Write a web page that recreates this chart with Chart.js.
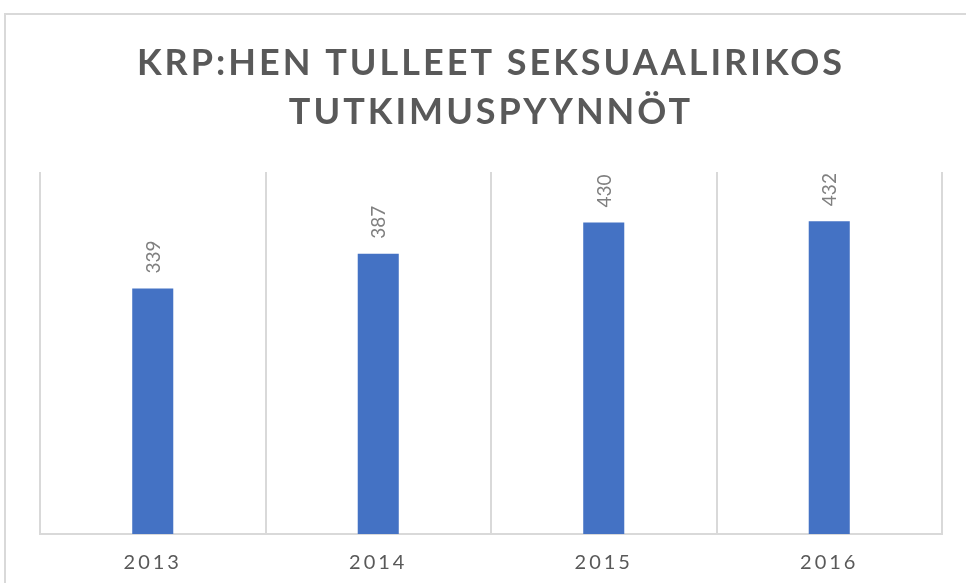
<!DOCTYPE html>
<html>
<head>
<meta charset="utf-8">
<script src="https://cdn.jsdelivr.net/npm/chart.js@4"></script>
<style>
  body { margin: 0; background: #fff; }
  #wrap { position: relative; width: 966px; height: 583px; overflow: hidden; }
  #frame { position: absolute; left: 4px; top: 13px; width: 1200px; height: 800px;
           border-top: 2px solid #d9d9d9; border-left: 2px solid #d9d9d9; }
  canvas { position: absolute; left: 0; top: 0; }
</style>
</head>
<body>
<div id="wrap">
  <div id="frame"></div>
  <canvas id="krp" width="966" height="583"></canvas>
</div>
<script>
var years = ['2013', '2014', '2015', '2016'];
var requests = [339, 387, 430, 432];
var titleLines = ['KRP:HEN TULLEET SEKSUAALIRIKOS', 'TUTKIMUSPYYNNÖT'];

// spaced-out text like the office chart style
var spacing = {
    id: 'spacing',
    beforeDraw: function (chart) {
        chart.ctx.letterSpacing = '3px';
    }
};

// vertical value labels above the bars
var valueLabels = {
    id: 'valueLabels',
    afterDatasetsDraw: function (chart) {
        var ctx = chart.ctx;
        var meta = chart.getDatasetMeta(0);
        ctx.save();
        ctx.letterSpacing = '0px';
        ctx.font = '19px Lato';
        ctx.fillStyle = '#808080';
        ctx.textAlign = 'left';
        ctx.textBaseline = 'middle';
        meta.data.forEach(function (bar, i) {
            ctx.save();
            ctx.translate(bar.x + 1, bar.y - 15);
            ctx.rotate(-Math.PI / 2);
            ctx.fillText(String(requests[i]), 0, 0);
            ctx.restore();
        });
        ctx.restore();
    }
};

var ctx = document.getElementById('krp').getContext('2d');
var chart = new Chart(ctx, {
    type: 'bar',
    data: {
        labels: years,
        datasets: [{
            label: 'Tutkimuspyynnöt',
            data: requests,
            backgroundColor: '#4472C4',
            borderWidth: 0,
            categoryPercentage: 1,
            barPercentage: 0.182
        }]
    },
    options: {
        responsive: false,
        animation: false,
        devicePixelRatio: 1,
        layout: {
            padding: { left: 40, right: 24, top: 0, bottom: 0 }
        },
        plugins: {
            legend: { display: false },
            tooltip: { enabled: false },
            title: {
                display: true,
                text: titleLines,
                color: '#595959',
                font: { family: 'Lato', size: 36, weight: 'bold', lineHeight: 1.36 },
                padding: { top: 39, bottom: 35 }
            }
        },
        scales: {
            x: {
                afterFit: function (scale) {
                    scale.height = 49;
                },
                grid: {
                    display: true,
                    offset: true,
                    drawTicks: false,
                    color: '#d9d9d9',
                    lineWidth: 2
                },
                border: { display: true, color: '#d9d9d9', width: 2 },
                ticks: {
                    color: '#595959',
                    padding: 17,
                    font: { family: 'Lato', size: 20 }
                }
            },
            y: {
                display: false,
                min: 0,
                max: 500
            }
        }
    },
    plugins: [spacing, valueLabels]
});
</script>
</body>
</html>
